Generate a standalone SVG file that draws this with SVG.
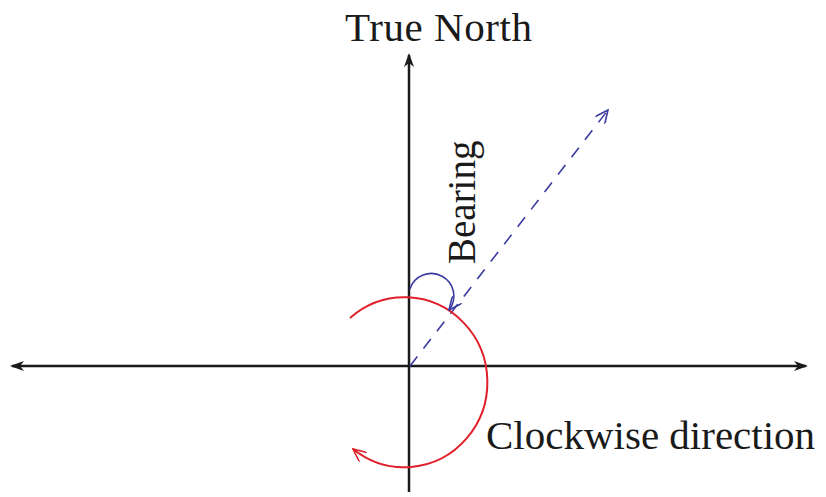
<svg xmlns="http://www.w3.org/2000/svg" width="826" height="497" viewBox="0 0 826 497">
<style>
.lbl{font-family:"Liberation Serif","Times New Roman",serif;fill:#1a1a1a;}
.axis{stroke:#1a1a1a;stroke-width:2.5;fill:none;}
.red{stroke:#e0202a;stroke-width:2;fill:none;}
.blue{stroke:#3a3aa0;stroke-width:1.6;fill:none;}
</style>
<defs>
<marker id="ah" markerWidth="14" markerHeight="10" refX="12" refY="5" orient="auto-start-reverse" markerUnits="userSpaceOnUse">
<path d="M0,0 L14,5 L0,10 L4,5 Z" fill="#1a1a1a"/>
</marker>
<marker id="rh" markerWidth="14" markerHeight="12" refX="13" refY="6" orient="auto" markerUnits="userSpaceOnUse">
<path d="M0,0 L13,6 L0,12" fill="none" stroke="#e0202a" stroke-width="1.6"/>
</marker>
<marker id="bh" markerWidth="14" markerHeight="12" refX="13" refY="6" orient="auto" markerUnits="userSpaceOnUse">
<path d="M0,0 L13,6 L0,12" fill="none" stroke="#3a3aa0" stroke-width="1.6"/>
</marker>
</defs>
<g id="connectors">
<line class="axis" x1="409" y1="492" x2="409" y2="55" marker-end="url(#ah)"/>
<line class="axis" x1="12" y1="366" x2="806" y2="366" marker-start="url(#ah)" marker-end="url(#ah)"/>
<line class="blue" x1="410" y1="366" x2="608" y2="110" stroke-dasharray="12 10" marker-end="url(#bh)"/>
<path class="red" d="M350 318 A83 85 0 1 1 353 449" marker-end="url(#rh)"/>
<path class="blue" d="M410 289 A22.5 22.5 0 1 1 449 310" marker-end="url(#bh)"/>
</g>
<g id="true-north"><text class="lbl" x="345" y="41" font-size="41" textLength="187">True North</text></g>
<g id="bearing"><text class="lbl" transform="translate(475,264) rotate(-90)" font-size="39">Bearing</text></g>
<g id="clockwise"><text class="lbl" x="486" y="449" font-size="41">Clockwise direction</text></g>
</svg>
